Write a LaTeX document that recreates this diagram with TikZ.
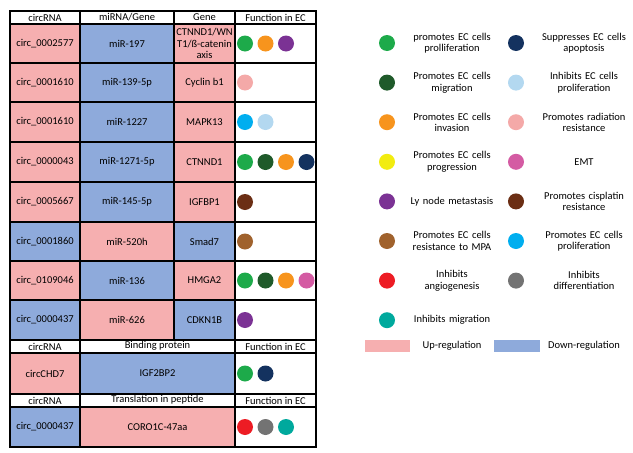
\documentclass[tikz,border=0pt]{standalone}
\usepackage{fontspec}
\setmainfont{Carlito}
\definecolor{up}{HTML}{F6AFB0}
\definecolor{dn}{HTML}{8EAADB}
\definecolor{cG}{HTML}{1DAA4A}
\definecolor{cDG}{HTML}{1F5A2A}
\definecolor{cO}{HTML}{F7941D}
\definecolor{cY}{HTML}{F2EC10}
\definecolor{cP}{HTML}{7B3294}
\definecolor{cBr}{HTML}{A0622D}
\definecolor{cR}{HTML}{ED1C24}
\definecolor{cT}{HTML}{00A99D}
\definecolor{cN}{HTML}{14325F}
\definecolor{cLB}{HTML}{B3D8F0}
\definecolor{cPk}{HTML}{F4A9A8}
\definecolor{cE}{HTML}{D45BA3}
\definecolor{cDB}{HTML}{6B2E14}
\definecolor{cC}{HTML}{00AEEF}
\definecolor{cGr}{HTML}{737373}
\begin{document}
\begin{tikzpicture}[x=1pt,y=-1pt,font=\fontsize{10.5}{11.5}\selectfont,
  cell/.style={draw=black,line width=1.1pt},
  dot/.style={circle,minimum size=16pt,inner sep=0pt},
  lt/.style={align=center,text width=95pt,inner sep=0pt}]
\useasboundingbox (0,0) rectangle (633,453);
\def\xa{10}\def\xb{80}\def\xc{174}\def\xd{235}\def\xe{316}
\draw[cell,fill=white] (\xa,11) rectangle (\xb,24);
\draw[cell,fill=white] (\xb,11) rectangle (\xc,24);
\draw[cell,fill=white] (\xc,11) rectangle (\xd,24);
\draw[cell,fill=white] (\xd,11) rectangle (\xe,24);
\node (h1) at (45,17.5) {circRNA};
\node (h2) at (127,17.5) {miRNA/Gene};
\node (h3) at (204.5,17.5) {Gene};
\node (h4) at (275.5,17.5) {Function in EC};
\newcommand\row[9]{%
 \draw[cell,fill=#3] (\xa,#1) rectangle (\xb,#2);
 \draw[cell,fill=#4] (\xb,#1) rectangle (\xc,#2);
 \draw[cell,fill=#5] (\xc,#1) rectangle (\xd,#2);
 \draw[cell,fill=white] (\xd,#1) rectangle (\xe,#2);
 \node at (45,{(#1+#2)/2}) {#6};
 \node at (127,{(#1+#2)/2}) {#7};
 \node[align=center,inner sep=0pt] at (204.5,{(#1+#2)/2}) {#8};
 \foreach \c [count=\i] in {#9} \node[dot,fill=\c] at ({245+20.5*(\i-1)},{(#1+#2)/2}) {};}
\row{24}{63}{up}{dn}{up}{circ\_0002577}{miR-197}{CTNND1/WN\\T1/ß-catenin\\axis}{cG,cO,cP}
\row{63}{102}{up}{dn}{up}{circ\_0001610}{miR-139-5p}{Cyclin b1}{cPk}
\row{102}{142}{up}{dn}{up}{circ\_0001610}{miR-1227}{MAPK13}{cC,cLB}
\row{142}{182}{up}{dn}{up}{circ\_0000043}{miR-1271-5p}{CTNND1}{cG,cDG,cO,cN}
\row{182}{222}{up}{dn}{up}{circ\_0005667}{miR-145-5p}{IGFBP1}{cDB}
\row{222}{261}{dn}{up}{dn}{circ\_0001860}{miR-520h}{Smad7}{cBr}
\row{261}{300}{up}{dn}{up}{circ\_0109046}{miR-136}{HMGA2}{cG,cDG,cO,cE}
\row{300}{340}{dn}{up}{dn}{circ\_0000437}{miR-626}{CDKN1B}{cP}
\draw[cell,fill=white] (\xa,340) rectangle (\xb,353);
\draw[cell,fill=white] (\xb,340) rectangle (\xd,353);
\draw[cell,fill=white] (\xd,340) rectangle (\xe,353);
\node (b1) at (45,346.5) {circRNA};
\node (b2) at (157.5,345.5) {Binding protein};
\node (b3) at (275.5,346.5) {Function in EC};
\draw[cell,fill=up] (\xa,353) rectangle (\xb,394);
\draw[cell,fill=dn] (\xb,353) rectangle (\xd,394);
\draw[cell,fill=white] (\xd,353) rectangle (\xe,394);
\node (r9a) at (45,373.5) {circCHD7};
\node (r9b) at (157.5,373.5) {IGF2BP2};
\node[dot,fill=cG] (r9c) at (245,373.5) {};
\node[dot,fill=cN] (r9d) at (265.5,373.5) {};
\draw[cell,fill=white] (\xa,394) rectangle (\xb,407);
\draw[cell,fill=white] (\xb,394) rectangle (\xd,407);
\draw[cell,fill=white] (\xd,394) rectangle (\xe,407);
\node (t1) at (45,400.5) {circRNA};
\node (t2) at (157.5,399.5) {Translation in peptide};
\node (t3) at (275.5,400.5) {Function in EC};
\draw[cell,fill=dn] (\xa,407) rectangle (\xb,447);
\draw[cell,fill=up] (\xb,407) rectangle (\xd,447);
\draw[cell,fill=white] (\xd,407) rectangle (\xe,447);
\node (r10a) at (45,427) {circ\_0000437};
\node (r10b) at (157.5,427) {CORO1C-47aa};
\node[dot,fill=cR] (r10c) at (245,427) {};
\node[dot,fill=cGr] (r10d) at (265.5,427) {};
\node[dot,fill=cT] (r10e) at (286,427) {};
\draw[line width=1.6pt] (\xa,11) rectangle (\xe,447);
\foreach \c/\t [count=\i] in {cG/{promotes EC cells\\prolliferation},cDG/{Promotes EC cells\\migration},cO/{Promotes EC cells\\invasion},cY/{Promotes EC cells\\progression},cP/{Ly node metastasis},cBr/{Promotes EC cells\\resistance to MPA},cR/{Inhibits\\angiogenesis},cT/{Inhibits migration}}{
 \node[dot,fill=\c] (l\i) at (387,{43+39.6*(\i-1)}) {};
 \node[lt] (lt\i) at (452,{43+39.6*(\i-1)}) {\t};}
\foreach \c/\t [count=\i] in {cN/{Suppresses EC cells\\apoptosis},cLB/{Inhibits EC cells\\proliferation},cPk/{Promotes radiation\\resistance},cE/{EMT},cDB/{Promotes cisplatin\\resistance},cC/{Promotes EC cells\\proliferation},cGr/{Inhibits\\differentiation}}{
 \node[dot,fill=\c] (m\i) at (516,{43+39.6*(\i-1)}) {};
 \node[lt] (mt\i) at (584,{43+39.6*(\i-1)}) {\t};}
\fill[up] (365,340) rectangle (410,352);
\node (upl) at (452,346) {Up-regulation};
\fill[dn] (494,340) rectangle (540,352);
\node (dnl) at (584,346) {Down-regulation};
\end{tikzpicture}
\end{document}
